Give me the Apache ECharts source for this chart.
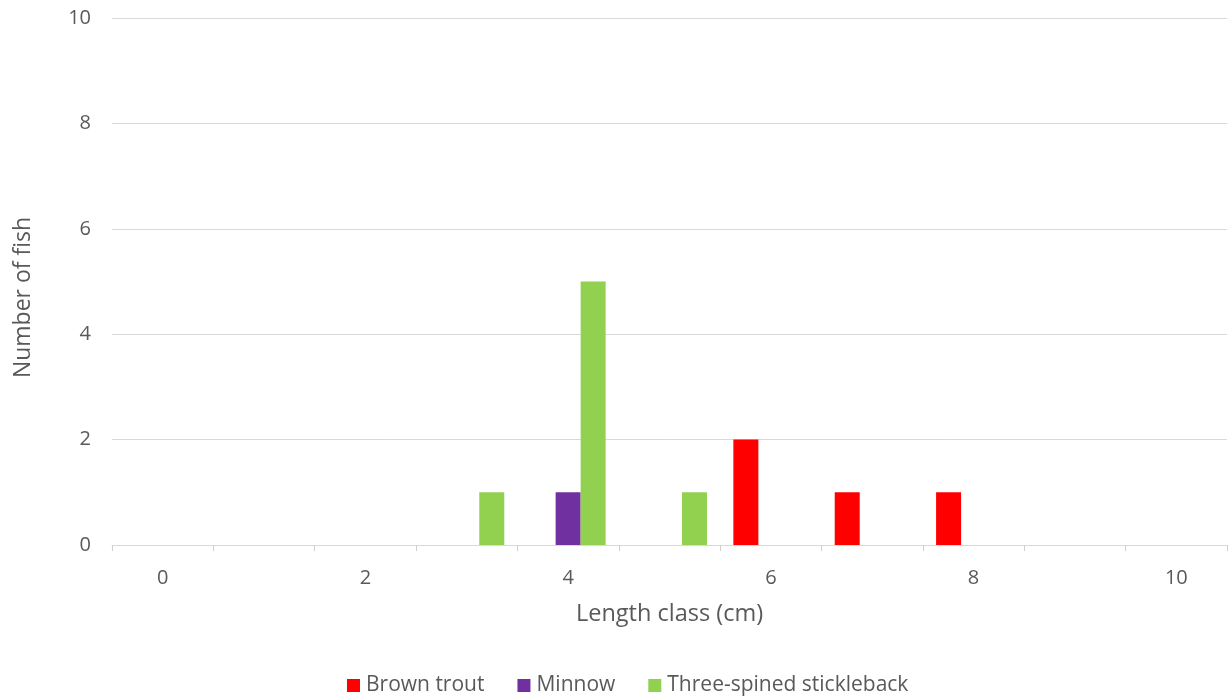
<!DOCTYPE html>
<html>
<head>
<meta charset="utf-8">
<script src="https://cdn.jsdelivr.net/npm/echarts@6/dist/echarts.min.js"></script>
<style>html,body{margin:0;padding:0;background:#fff;}#c{width:1229px;height:700px;}</style>
</head>
<body>
<div id="c"></div>
<script>
const categories = ['0','1','2','3','4','5','6','7','8','9','10'];
const brownTrout = [0,0,0,0,0,0,2,1,1,0,0];
const minnow = [0,0,0,0,1,0,0,0,0,0,0];
const stickleback = [0,0,0,1,5,1,0,0,0,0,0];
const seriesNames = ['Brown trout','Minnow','Three-spined stickleback'];
const yTicks = {min:0, max:10, interval:2};

const FONT = 'Open Sans';
const TXT = '#595959';
const chart = echarts.init(document.getElementById('c'), null, {renderer:'canvas'});
const mk = (name, data, color) => ({
  name, type:'bar', data, barWidth:25, barGap:'0%',
  itemStyle:{color}, emphasis:{disabled:true}
});
chart.setOption({
  animation:false,
  textStyle:{fontFamily:FONT},
  grid:{left:112, right:2, top:18, bottom:155},
  legend:{
    bottom:4, left:347, padding:0, itemWidth:13, itemHeight:13, itemGap:33,
    icon:'rect',
    textStyle:{color:TXT, fontSize:21, fontFamily:FONT, padding:[0,0,0,1]},
    data:seriesNames
  },
  xAxis:{
    type:'category', data:categories,
    name:'Length class (cm)', nameLocation:'middle', nameGap:57,
    nameTextStyle:{color:TXT, fontSize:23.5, fontFamily:FONT},
    axisLine:{lineStyle:{color:'#d9d9d9', width:1}},
    axisTick:{show:true, interval:0, length:6, lineStyle:{color:'#d0d0d0'}},
    axisLabel:{interval:1, color:TXT, fontSize:20, margin:23, fontFamily:FONT}
  },
  yAxis:{
    type:'value', min:yTicks.min, max:yTicks.max, interval:yTicks.interval,
    name:'Number of fish', nameLocation:'middle', nameGap:77,
    nameTextStyle:{color:TXT, fontSize:23, fontFamily:FONT, padding:[0,32,0,0]},
    axisLine:{show:false}, axisTick:{show:false},
    axisLabel:{color:TXT, fontSize:20, margin:21, fontFamily:FONT},
    splitLine:{lineStyle:{color:'#d9d9d9', width:1}}
  },
  series:[
    mk(seriesNames[0], brownTrout, '#FF0000'),
    mk(seriesNames[1], minnow, '#7030A0'),
    mk(seriesNames[2], stickleback, '#92D050')
  ]
});
</script>
</body>
</html>
